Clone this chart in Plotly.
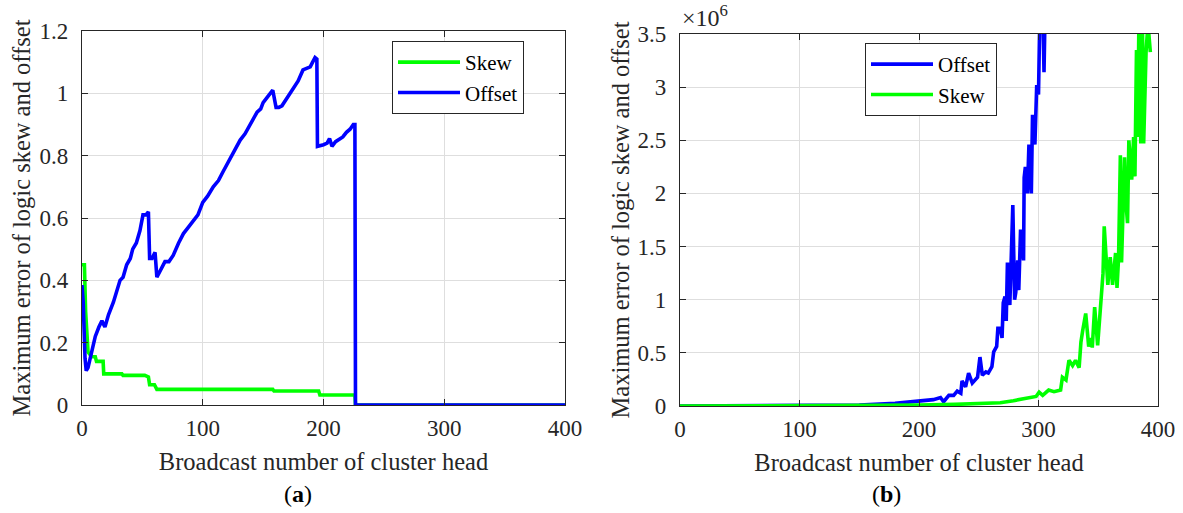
import plotly.graph_objects as go

# ---------- Panel (a) data ----------
skew_a_x = [0, 2, 3, 5, 8, 11, 12, 17.5, 18, 33, 34, 52, 55, 56, 60, 62, 158, 159, 196, 197, 226, 226.5, 400]
skew_a_y = [0.45, 0.45, 0.30, 0.17, 0.155, 0.155, 0.14, 0.14, 0.10, 0.10, 0.095, 0.095, 0.09, 0.065, 0.065,
            0.05, 0.05, 0.045, 0.045, 0.032, 0.032, 0, 0]

offset_a_x = [0, 1, 2.5, 3.5, 5, 8, 11, 14, 16.5, 19, 22, 26, 29, 31.5, 34, 37, 40, 42, 45, 48, 50.5, 53, 55,
              56, 58, 60.5, 62, 65, 68.7, 72, 75.5, 80, 84, 88, 92, 96, 100, 104, 108.7, 113, 117, 121, 125,
              128, 131, 135, 139, 142, 145, 148, 150, 154, 158, 160.7, 163, 165.6, 169, 172, 176, 179, 183,
              186, 189, 191, 193, 194.5, 195, 200, 203, 205, 207, 210, 213.7, 216, 219, 222, 224.7, 226,
              226.5, 300, 400]
offset_a_y = [0.385, 0.33, 0.15, 0.11, 0.12, 0.17, 0.22, 0.25, 0.27, 0.25, 0.29, 0.33, 0.37, 0.40, 0.41, 0.45,
              0.47, 0.50, 0.52, 0.56, 0.61, 0.61, 0.62, 0.47, 0.47, 0.49, 0.41, 0.43, 0.46, 0.46, 0.48, 0.52,
              0.55, 0.57, 0.59, 0.61, 0.65, 0.67, 0.70, 0.72, 0.75, 0.78, 0.81, 0.83, 0.85, 0.87, 0.90, 0.92,
              0.94, 0.95, 0.97, 0.99, 1.01, 0.955, 0.955, 0.96, 0.98, 1.00, 1.02, 1.04, 1.075, 1.08, 1.085,
              1.10, 1.115, 1.11, 0.83, 0.835, 0.84, 0.855, 0.83, 0.845, 0.855, 0.86, 0.875, 0.885, 0.90, 0.90,
              0, 0, 0]

# ---------- Panel (b) data (values in units of 1e6) ----------
offset_b_x = [0, 100, 150, 180, 195.6, 205, 212, 218, 220.6, 225, 229, 232, 235, 236, 239, 241.5, 244.6, 249,
              251, 253, 256, 258, 261, 262.5, 265, 266, 268, 269.5, 270.5, 272, 273, 274, 276, 278.5, 280,
              281, 282.6, 283.5, 285, 287.5, 288, 289, 290.7, 292, 294, 295, 297, 298.5, 300, 301, 303.5,
              304.6, 306, 320, 350, 400]
offset_b_y = [0, 0.002, 0.01, 0.025, 0.04, 0.05, 0.06, 0.08, 0.04, 0.10, 0.10, 0.14, 0.12, 0.235, 0.18, 0.31,
              0.215, 0.27, 0.46, 0.29, 0.32, 0.31, 0.37, 0.51, 0.56, 0.73, 0.73, 0.64, 0.97, 1.03, 0.80, 1.35,
              0.95, 1.89, 1.0, 1.07, 1.37, 1.09, 1.66, 1.37, 2.15, 2.25, 2.0, 2.46, 2.0, 2.74, 2.46, 3.02,
              2.93, 3.6, 3.8, 3.14, 4.0, 6.0, 12.0, 30.0]

skew_b_x = [0, 100, 150, 200, 230, 250, 268, 279, 293, 298, 300.5, 303.5, 308.5, 313, 318.5, 320, 323, 325.5,
            328.5, 331, 334, 335.5, 337, 339.5, 342, 344, 345, 347, 349.5, 351.5, 354, 355, 358, 360, 362,
            364.5, 365.7, 367, 368.5, 369.5, 370.6, 372, 373, 374.5, 375.6, 378, 379.6, 380.7, 382, 383, 384,
            385.6, 387, 388, 390, 391.6, 393.6]
skew_b_y = [0, 0.001, 0.003, 0.008, 0.015, 0.02, 0.03, 0.05, 0.075, 0.09, 0.13, 0.10, 0.15, 0.135, 0.15, 0.27,
            0.245, 0.43, 0.38, 0.43, 0.36, 0.60, 0.71, 0.87, 0.56, 0.64, 0.55, 0.93, 0.57, 0.90, 1.25, 1.69,
            1.14, 1.40, 1.14, 1.44, 1.11, 1.39, 2.36, 1.35, 1.72, 2.34, 1.94, 1.72, 2.50, 2.13, 2.53, 2.16,
            3.35, 2.53, 3.6, 2.47, 3.6, 2.47, 3.33, 3.6, 3.33]

x_ticks = [0, 100, 200, 300, 400]
y_ticks_a = [0, 0.2, 0.4, 0.6, 0.8, 1, 1.2]
y_ticks_b = [0, 0.5, 1, 1.5, 2, 2.5, 3, 3.5]
y_title = "Maximum error of logic skew and offset"
x_title = "Broadcast number of cluster head"

BLUE = "#0000FF"
GREEN = "#00FF00"
FONT = "Liberation Serif, 'Times New Roman', Times, 'DejaVu Serif', serif"
AXC = "#262626"
GRID = "#DEDEDE"
LW = 3.6

fig = go.Figure()
fig.add_trace(go.Scatter(x=skew_a_x, y=skew_a_y, mode="lines", name="Skew",
                         line=dict(color=GREEN, width=LW), xaxis="x", yaxis="y", legend="legend"))
fig.add_trace(go.Scatter(x=offset_a_x, y=offset_a_y, mode="lines", name="Offset",
                         line=dict(color=BLUE, width=LW), xaxis="x", yaxis="y", legend="legend"))
fig.add_trace(go.Scatter(x=offset_b_x, y=offset_b_y, mode="lines", name="Offset",
                         line=dict(color=BLUE, width=LW), xaxis="x2", yaxis="y2", legend="legend2"))
fig.add_trace(go.Scatter(x=skew_b_x, y=skew_b_y, mode="lines", name="Skew",
                         line=dict(color=GREEN, width=LW), xaxis="x2", yaxis="y2", legend="legend2"))

W, H = 1183, 513
common_axis = dict(showline=True, linecolor=AXC, linewidth=1.2, mirror="ticks", ticks="inside",
                   ticklen=6, tickcolor=AXC, showgrid=True, gridcolor=GRID, gridwidth=1,
                   zeroline=False, automargin=False,
                   tickfont=dict(family=FONT, size=23, color="#262626"))
title_font = dict(family=FONT, size=24.5, color="#262626")
legend_common = dict(xanchor="left", yanchor="top", bgcolor="white", bordercolor="#262626",
                     borderwidth=1, font=dict(family=FONT, size=21, color="black"),
                     tracegroupgap=0, itemwidth=62)

fig.update_layout(
    template="none",
    width=W, height=H,
    margin=dict(l=0, r=0, t=0, b=0, pad=0),
    paper_bgcolor="white", plot_bgcolor="white",
    font=dict(family=FONT, color="#262626"),
    xaxis=dict(domain=[82 / W, 565 / W], range=[0, 400], tickvals=x_ticks, anchor="y",
               ticklabelstandoff=2,
               title=dict(text=x_title, font=title_font, standoff=13), **common_axis),
    yaxis=dict(domain=[1 - 405 / H, 1 - 31 / H], range=[0, 1.2], tickvals=y_ticks_a, anchor="x",
               ticklabelstandoff=8,
               title=dict(text=y_title, font=title_font, standoff=1), **common_axis),
    xaxis2=dict(domain=[680 / W, 1158 / W], range=[0, 400], tickvals=x_ticks, anchor="y2",
                ticklabelstandoff=2,
                title=dict(text=x_title, font=title_font, standoff=13), **common_axis),
    yaxis2=dict(domain=[1 - 406 / H, 1 - 34 / H], range=[0, 3.5], tickvals=y_ticks_b, anchor="x2",
                ticklabelstandoff=8,
                title=dict(text=y_title, font=title_font, standoff=0), **common_axis),
    legend=dict(x=392 / W, y=1 - 41 / H, **legend_common),
    legend2=dict(x=865 / W, y=1 - 43 / H, **legend_common),
    showlegend=True,
    annotations=[
        dict(text="×10<sup>6</sup>", x=680 / W, y=1 - 33 / H, xref="paper", yref="paper",
             xanchor="left", yanchor="bottom", showarrow=False, font=dict(family=FONT, size=24, color="#262626")),
        dict(text="(<b>a</b>)", x=298 / W, y=1 - 494 / H, xref="paper", yref="paper",
             xanchor="center", yanchor="middle", showarrow=False, font=dict(family=FONT, size=24, color="black")),
        dict(text="(<b>b</b>)", x=886 / W, y=1 - 494 / H, xref="paper", yref="paper",
             xanchor="center", yanchor="middle", showarrow=False, font=dict(family=FONT, size=24, color="black")),
    ],
)

fig.write_html("out.html")
